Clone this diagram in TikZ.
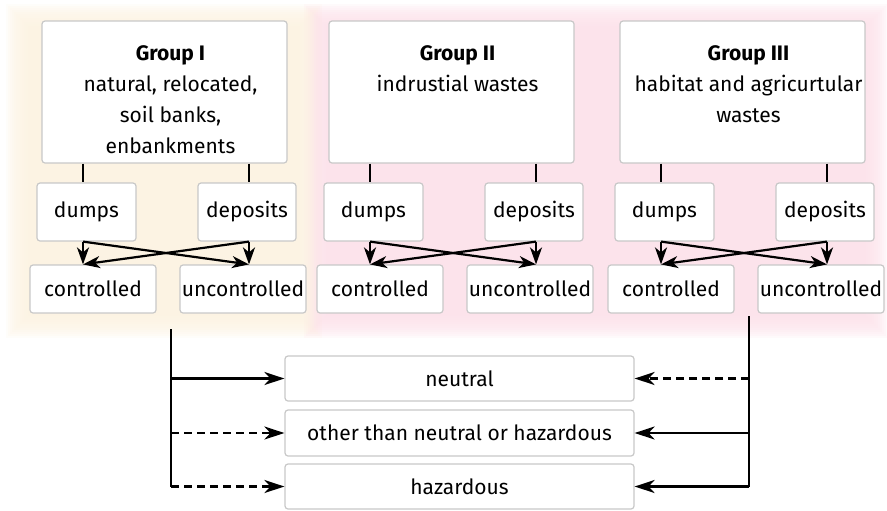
\documentclass[tikz,border=0pt]{standalone}
\usepackage{fontspec}
\setmainfont{Fira Sans}
\usetikzlibrary{arrows.meta}
\definecolor{bgBeige}{RGB}{252,242,224}
\definecolor{bgPink}{RGB}{252,224,233}
\definecolor{boxEdge}{RGB}{200,200,200}

\tikzset{
  box/.style={draw=boxEdge, line width=0.6pt, fill=white, rounded corners=1.5pt, inner sep=0pt},
  tick/.style={line width=1.2pt},
  link/.style={line width=1.2pt, -{Stealth[length=10pt, width=6.5pt, inset=3pt]}},
  cross/.style={line width=1.1pt, -{Stealth[length=8.5pt, width=6pt, inset=2.5pt]}},
  dashlink/.style={link, dash pattern=on 4pt off 2.5pt}
}

\begin{document}
\begin{tikzpicture}[x=0.5pt, y=-0.5pt, font=\fontsize{10.5}{15.5}\selectfont]
  \useasboundingbox (0,0) rectangle (887,510);

  % soft coloured zones behind the groups
  \foreach \i in {0,...,11} {
    \fill[bgBeige, opacity=0.17] (6+2*\i, 4+2*\i) rectangle (322-2*\i, 338-2*\i);
    \fill[bgPink, opacity=0.17] (304+2*\i, 4+2*\i) rectangle (888-2*\i, 338-2*\i);
  }

  % the three groups
  \foreach \g/\x/\txt in {I/0/{natural, relocated,\\ soil banks,\\ enbankments},
                          II/287/{indrustial wastes},
                          III/578/{habitat and agricurtular\\ wastes}} {
    \node[box, minimum width=122.5pt, minimum height=71pt] (grp\g) at (164.5+\x, 92) {};
    \node[anchor=north, align=center, inner sep=0pt] (txt\g) at ([xshift=3pt, yshift=-12.5pt]grp\g.north)
      {\textbf{Group \g}\\ \txt};
    \node[box, minimum width=49.5pt, minimum height=29pt] (dumps\g) at (86.5+\x, 212) {dumps};
    \node[box, minimum width=49pt, minimum height=29pt] (dep\g) at (247+\x, 212) {deposits};
    \node[box, minimum width=63pt, minimum height=24pt] (ctrl\g) at (93+\x, 289) {controlled};
    \node[box, minimum width=63pt, minimum height=24pt] (unctrl\g) at (243+\x, 289) {uncontrolled};
    \coordinate (L\g) at (83+\x, 0);
    \coordinate (R\g) at (249+\x, 0);
    \draw[tick] (grp\g.south -| L\g) -- (dumps\g.north -| L\g);
    \draw[tick] (grp\g.south -| R\g) -- (dep\g.north -| R\g);
    \draw[cross] (dumps\g.south -| L\g) -- (ctrl\g.north -| L\g);
    \draw[cross] (dumps\g.south -| L\g) -- (unctrl\g.north -| R\g);
    \draw[cross] (dep\g.south -| R\g) -- (unctrl\g.north -| R\g);
    \draw[cross] (dep\g.south -| R\g) -- (ctrl\g.north -| L\g);
  }

  % waste classes
  \node[box, minimum width=174.5pt, minimum height=22.5pt] (neutral) at (459.5, 378.5) {neutral};
  \node[box, minimum width=174.5pt, minimum height=23pt] (other) at (459.5, 433) {other than neutral or hazardous};
  \node[box, minimum width=174.5pt, minimum height=22.5pt] (hazard) at (459.5, 486.5) {hazardous};

  % left collector
  \coordinate (lTop) at (171, 329);
  \draw[tick] (lTop) -- (lTop |- hazard.west);
  \draw[link] (lTop |- neutral.west) -- (neutral.west);
  \draw[dashlink] (lTop |- other.west) -- (other.west);
  \draw[dashlink] (lTop |- hazard.west) -- (hazard.west);

  % right collector
  \coordinate (rTop) at (749, 316);
  \draw[tick] (rTop) -- (rTop |- hazard.east);
  \draw[dashlink] (rTop |- neutral.east) -- (neutral.east);
  \draw[link] (rTop |- other.east) -- (other.east);
  \draw[link] (rTop |- hazard.east) -- (hazard.east);
\end{tikzpicture}
\end{document}
